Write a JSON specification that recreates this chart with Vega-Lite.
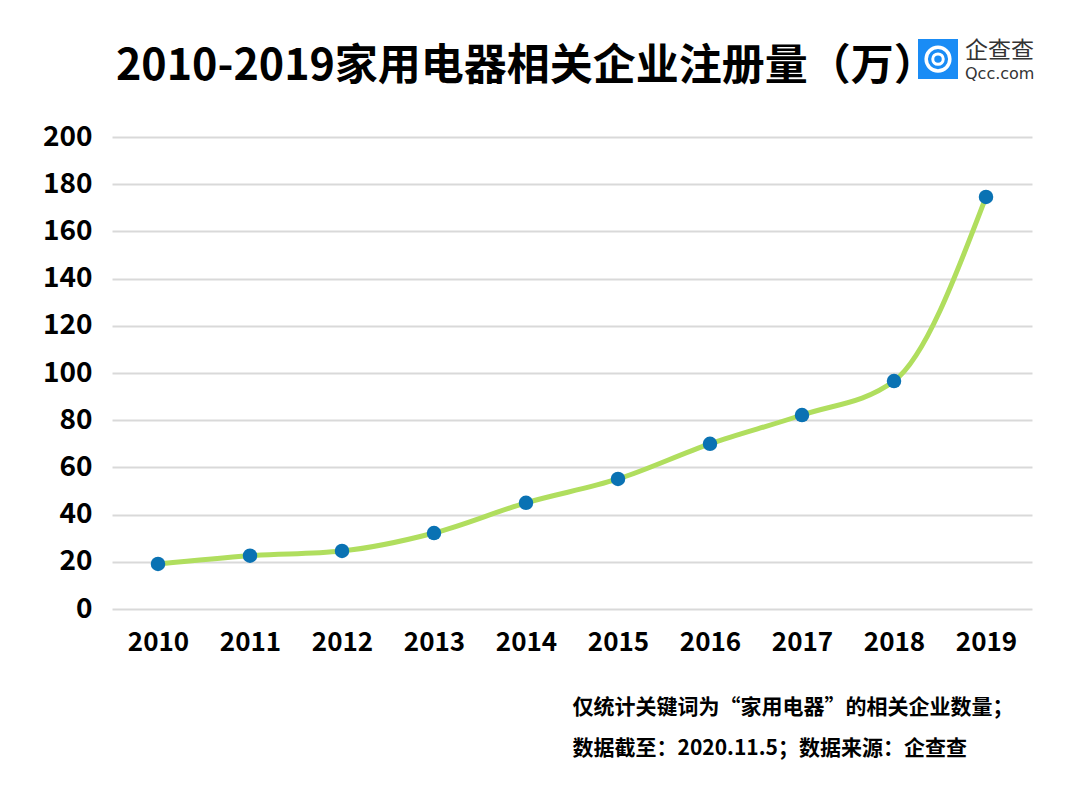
{
  "$schema": "https://vega.github.io/schema/vega-lite/v6.json",
  "width": 920,
  "height": 472,
  "autosize": {"type": "none"},
  "padding": {"left": 112, "top": 137, "right": 35, "bottom": 194},
  "background": "white",
  "config": {"view": {"stroke": null}, "font": "Noto Sans CJK SC"},
  "title": {
    "text": "2010-2019家用电器相关企业注册量（万）",
    "anchor": "start",
    "frame": "group",
    "font": "Noto Sans CJK SC",
    "fontSize": 43,
    "fontWeight": "bold",
    "color": "#000000",
    "dx": 4,
    "offset": -50
  },
  "data": {
    "values": [
      {"year": "2010", "value": 19.1},
      {"year": "2011", "value": 22.6},
      {"year": "2012", "value": 24.6},
      {"year": "2013", "value": 32.2},
      {"year": "2014", "value": 45.0},
      {"year": "2015", "value": 55.1},
      {"year": "2016", "value": 70.0},
      {"year": "2017", "value": 82.2},
      {"year": "2018", "value": 96.6},
      {"year": "2019", "value": 174.6}
    ]
  },
  "layer": [
    {
      "mark": {"type": "line", "interpolate": "monotone", "color": "#b0de5e", "strokeWidth": 5},
      "encoding": {
        "x": {
          "field": "year",
          "type": "ordinal",
          "scale": {"type": "point", "padding": 0.5},
          "axis": {
            "domain": false,
            "ticks": false,
            "grid": false,
            "labelAngle": 0,
            "labelFont": "Noto Sans CJK SC",
            "labelFontSize": 26,
            "labelFontWeight": "bold",
            "labelColor": "#000000",
            "labelPadding": 20,
            "title": ["仅统计关键词为“家用电器”的相关企业数量；", "数据截至：2020.11.5；数据来源：企查查"],
            "titleFont": "Noto Sans CJK SC",
            "titleFontSize": 21,
            "titleFontWeight": "bold",
            "titleColor": "#000000",
            "titleAlign": "left",
            "titleAnchor": "start",
            "titleBaseline": "alphabetic",
            "titleX": 460,
            "titleY": 104,
            "titleLineHeight": 41
          }
        },
        "y": {
          "field": "value",
          "type": "quantitative",
          "scale": {"domain": [0, 200], "nice": false},
          "axis": {
            "values": [0, 20, 40, 60, 80, 100, 120, 140, 160, 180, 200],
            "domain": false,
            "ticks": false,
            "grid": true,
            "gridColor": "#d9d9d9",
            "gridWidth": 2,
            "labelFont": "Noto Sans CJK SC",
            "labelFontSize": 28,
            "labelFontWeight": "bold",
            "labelColor": "#000000",
            "labelPadding": 20,
            "title": null
          }
        }
      }
    },
    {
      "mark": {"type": "point", "shape": "circle", "filled": true, "color": "#0a72b3", "opacity": 1, "size": 210},
      "encoding": {
        "x": {"field": "year", "type": "ordinal"},
        "y": {"field": "value", "type": "quantitative"}
      }
    },
    {
      "data": {"values": [{"logo": "icon"}]},
      "mark": {"type": "point", "shape": "square", "filled": true, "color": "#1a8cf5", "opacity": 1, "size": 1600, "xOffset": -48},
      "encoding": {"x": {"datum": "2019", "type": "ordinal"}, "y": {"datum": 233, "type": "quantitative"}}
    },
    {
      "data": {"values": [{"logo": "ring"}]},
      "mark": {"type": "point", "shape": "circle", "filled": false, "stroke": "#ffffff", "strokeWidth": 3.5, "opacity": 1, "size": 560, "xOffset": -48},
      "encoding": {"x": {"datum": "2019", "type": "ordinal"}, "y": {"datum": 233, "type": "quantitative"}}
    },
    {
      "data": {"values": [{"logo": "inner"}]},
      "mark": {"type": "point", "shape": "circle", "filled": false, "stroke": "#ffffff", "strokeWidth": 3, "opacity": 1, "size": 110, "xOffset": -48},
      "encoding": {"x": {"datum": "2019", "type": "ordinal"}, "y": {"datum": 233, "type": "quantitative"}}
    },
    {
      "data": {"values": [{"name": "企查查"}]},
      "mark": {"type": "text", "align": "left", "baseline": "middle", "font": "Noto Sans CJK SC", "fontSize": 23, "color": "#333333", "xOffset": -21},
      "encoding": {"x": {"datum": "2019", "type": "ordinal"}, "y": {"datum": 236.6, "type": "quantitative"}, "text": {"field": "name"}}
    },
    {
      "data": {"values": [{"name": "Qcc.com"}]},
      "mark": {"type": "text", "align": "left", "baseline": "middle", "font": "DejaVu Sans", "fontSize": 16, "color": "#333333", "xOffset": -21},
      "encoding": {"x": {"datum": "2019", "type": "ordinal"}, "y": {"datum": 226.5, "type": "quantitative"}, "text": {"field": "name"}}
    }
  ]
}
